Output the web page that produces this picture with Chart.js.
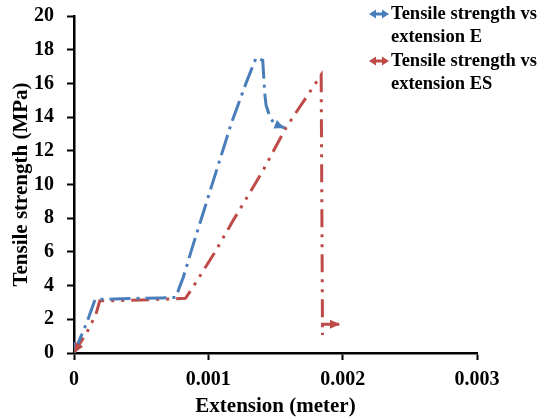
<!DOCTYPE html>
<html>
<head>
<meta charset="utf-8">
<script src="https://cdn.jsdelivr.net/npm/chart.js@4"></script>
<style>
  html, body { margin: 0; padding: 0; background: #fff; }
  #wrap { position: relative; width: 547px; height: 420px; }
  canvas { position: absolute; left: 0; top: 0; }
  .leg { position: absolute; left: 369px; font: bold 18.5px "Liberation Serif", "Times New Roman", serif; line-height: 23px; color: #000; white-space: nowrap; }
  .leg svg { position: absolute; left: 0; top: 7px; }
  .leg span { position: absolute; left: 22px; top: 0; }
</style>
</head>
<body>
<div id="wrap">
  <canvas id="c" width="547" height="420"></canvas>
  <div class="leg" style="top:2px;">
    <svg width="20" height="10" viewBox="0 0 20 10"><line x1="5" y1="5" x2="15" y2="5" stroke="#4A7EBB" stroke-width="3"/><polygon points="0,5 7,0.5 7,9.5" fill="#4A7EBB"/><polygon points="20,5 13,0.5 13,9.5" fill="#4A7EBB"/></svg>
    <span>Tensile strength vs<br>extension E</span>
  </div>
  <div class="leg" style="top:49px;">
    <svg width="20" height="10" viewBox="0 0 20 10"><line x1="5" y1="5" x2="15" y2="5" stroke="#BE4B48" stroke-width="3"/><polygon points="0,5 7,0.5 7,9.5" fill="#BE4B48"/><polygon points="20,5 13,0.5 13,9.5" fill="#BE4B48"/></svg>
    <span>Tensile strength vs<br>extension ES</span>
  </div>
</div>
<script>
// Series E (blue)
const extE = [0, 0.0001, 0.000157, 0.0003, 0.0005, 0.00065, 0.00076, 0.000784, 0.000813, 0.000883, 0.000958, 0.00117, 0.00128, 0.001356, 0.001405, 0.00142, 0.00143, 0.001455, 0.00149, 0.001567];
const strE = [0, 1.9, 3.18, 3.2, 3.25, 3.27, 3.3, 3.88, 4.48, 6.33, 8.22, 13.6, 16.0, 17.53, 17.37, 15.4, 14.7, 14.09, 13.6, 13.36];
// Series ES (red)
const extES = [0, 0.000097, 0.000162, 0.000192, 0.0003, 0.0005, 0.0007, 0.00083, 0.000883, 0.001045, 0.00118, 0.00127, 0.001405, 0.00158, 0.00184, 0.00185, 0.00185, 0.00198];
const strES = [0, 1.25, 2.27, 3.1, 3.1, 3.15, 3.2, 3.25, 3.88, 5.93, 7.8, 9.0, 10.8, 13.4, 16.5, 1.07, 1.7, 1.7];
const seriesNames = ['Tensile strength vs extension E', 'Tensile strength vs extension ES'];
const xTicks = [0, 0.001, 0.002, 0.003];
const yMin = 0, yMax = 20, yStep = 2;

const BLUE = '#4A7EBB', RED = '#BE4B48';
const FONT = '"Liberation Serif", "Times New Roman", serif';

const arrowPlugin = {
  id: 'arrows',
  afterDatasetsDraw(chart) {
    const ctx = chart.ctx;
    chart.data.datasets.forEach((ds, di) => {
      const pts = chart.getDatasetMeta(di).data;
      if (pts.length < 2) return;
      const head = (tip, from) => {
        const ang = Math.atan2(tip.y - from.y, tip.x - from.x);
        const L = 10, W = 4.5;
        ctx.save();
        ctx.translate(tip.x, tip.y);
        ctx.rotate(ang);
        ctx.beginPath();
        ctx.moveTo(0, 0);
        ctx.lineTo(-L, -W);
        ctx.lineTo(-L, W);
        ctx.closePath();
        ctx.fillStyle = ds.borderColor;
        ctx.fill();
        ctx.restore();
      };
      head(pts[0], pts[1]);
      head(pts[pts.length - 1], pts[pts.length - 2]);
    });
  }
};

const mk = (xs, ys) => xs.map((x, i) => ({ x: x, y: ys[i] }));

new Chart(document.getElementById('c'), {
  type: 'scatter',
  data: {
    datasets: [
      { label: seriesNames[0], data: mk(extE, strE), showLine: true, borderColor: BLUE, backgroundColor: BLUE,
        borderWidth: 3, borderDash: [21, 6, 3, 6], pointRadius: 0, tension: 0 },
      { label: seriesNames[1], data: mk(extES, strES), showLine: true, borderColor: RED, backgroundColor: RED,
        borderWidth: 3, borderDash: [18, 7, 3, 7, 3, 7], pointRadius: 0, tension: 0 }
    ]
  },
  options: {
    responsive: false,
    animation: false,
    layout: { padding: { left: 0, top: 16, right: 70, bottom: 0 } },
    plugins: { legend: { display: false }, tooltip: { enabled: false } },
    scales: {
      x: {
        type: 'linear', min: xTicks[0], max: xTicks[xTicks.length - 1],
        afterBuildTicks: s => { s.ticks = xTicks.map(v => ({ value: v })); },
        afterFit: s => { s.height = 67; s.paddingLeft = 0; s.paddingRight = 0; },
        ticks: { color: '#000', font: { family: FONT, size: 20, weight: 'bold' }, padding: 8,
                 callback: v => String(v), maxRotation: 0 },
        grid: { display: true, drawOnChartArea: false, drawTicks: true, tickLength: 7, tickWidth: 2, tickColor: '#000' },
        border: { display: true, color: '#000', width: 2.5 },
        title: { display: true, text: 'Extension (meter)', color: '#000', font: { family: FONT, size: 21, weight: 'bold' }, padding: { top: 0, bottom: 1 } }
      },
      y: {
        type: 'linear', min: yMin, max: yMax,
        ticks: { stepSize: yStep, color: '#000', font: { family: FONT, size: 20, weight: 'bold' }, padding: 13 },
        afterFit: s => { s.width = 74; s.paddingTop = 0; s.paddingBottom = 0; },
        grid: { display: true, drawOnChartArea: false, drawTicks: true, tickLength: 7, tickWidth: 2, tickColor: '#000' },
        border: { display: true, color: '#000', width: 2.5 },
        title: { display: true, text: 'Tensile strength (MPa)', color: '#000', font: { family: FONT, size: 21, weight: 'bold' }, padding: { top: 9, bottom: 0 } }
      }
    }
  },
  plugins: [arrowPlugin]
});
</script>
</body>
</html>
